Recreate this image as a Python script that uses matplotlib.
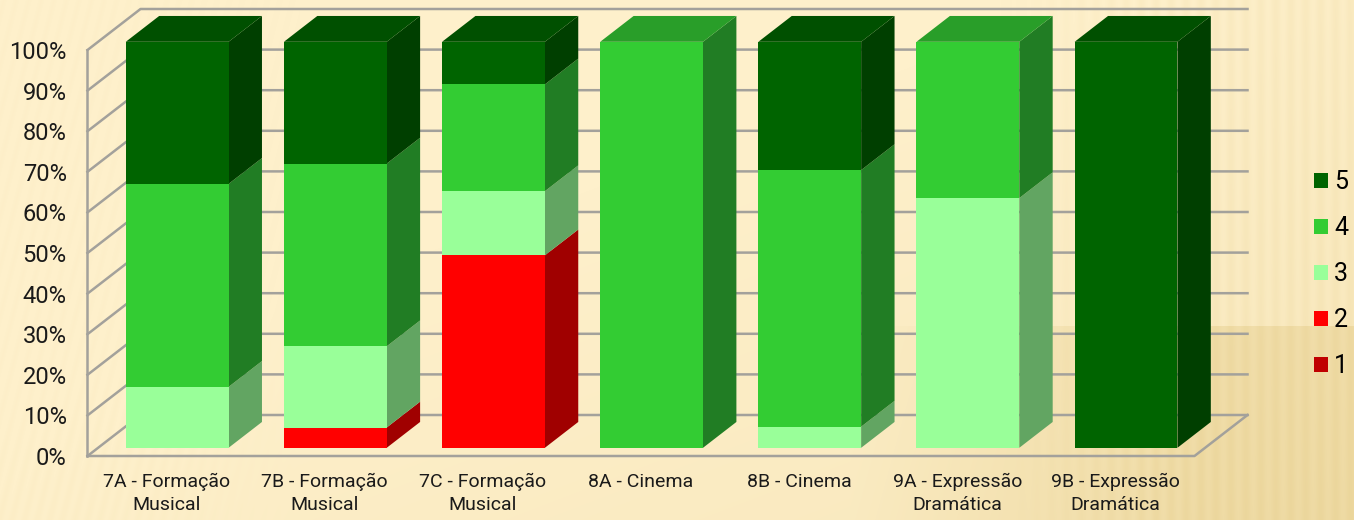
import matplotlib
matplotlib.use('Agg')
import matplotlib.pyplot as plt
from matplotlib.patches import Patch
import numpy as np

plt.rcParams['font.family'] = ['Roboto', 'DejaVu Sans']

categories = ['7A - Formação\nMusical', '7B - Formação\nMusical', '7C - Formação\nMusical',
              '8A - Cinema', '8B - Cinema', '9A - Expressão\nDramática', '9B - Expressão\nDramática']
series_names = ['1', '2', '3', '4', '5']
s1 = [0, 0, 0, 0, 0, 0, 0]
s2 = [0, 5, 47.4, 0, 0, 0, 0]
s3 = [15, 20, 15.8, 0, 5.2, 61.5, 0]
s4 = [50, 45, 26.3, 100, 63.2, 38.5, 0]
s5 = [35, 30, 10.5, 0, 31.6, 0, 100]
series = [s1, s2, s3, s4, s5]
yticks = [0, 10, 20, 30, 40, 50, 60, 70, 80, 90, 100]

front = ['#C00000', '#FF0000', '#99FF99', '#33CC33', '#006400']
side = ['#800000', '#A00000', '#62A562', '#217D24', '#003F00']
top = ['#900000', '#C00000', '#7ACC7A', '#299E29', '#005000']
grid_col = '#A3A19B'

W, H = 1354, 520
fig = plt.figure(figsize=(W / 100, H / 100), dpi=100)

# fondo
bg = fig.add_axes([0, 0, 1, 1], zorder=0)
bg.axis('off')
yy, xx = np.mgrid[0:H, 0:W]
light = np.array([254, 240, 203], float)
dark = np.array([234, 212, 152], float)
t = np.clip((xx / W) * 0.25 + (yy / H) * 0.25 - 0.2, 0, 1)
t = t + 0.55 * (yy > 325) * np.clip((xx - 850) / 350, 0, 1)
t = t + 0.12 * np.clip((xx - 1000) / 300, 0, 1) * (yy <= 325)
t = t + 0.08 * np.sin(xx * 0.42) * np.clip((xx - 1000) / 150, 0, 1)
t = t + 0.04 * np.sin((xx + yy * 0.25) * 0.5) * np.clip((300 - xx) / 200, 0, 1)
t = np.clip(t, 0, 1)[..., None]
bg.imshow((light * (1 - t) + dark * t).astype(np.uint8), aspect='auto')

ax = fig.add_axes([87.5 / W, (H - 456) / H, (1195 - 88) / W, 406 / H], zorder=1)
ax.patch.set_alpha(0)
ax.set_xlim(-0.5, 6.5)
ax.set_ylim(0, 100)
for s in ax.spines.values():
    s.set_visible(False)

# profundidad
dx = 53 / 158.1
dy = 41 / 4.06
z0, z1 = 0.2, 0.83
bw = 0.65


def proj(x, y, z):
    return x + z * dx, y + z * dy


# paredes
for v in yticks:
    a = proj(-0.5, v, 0)
    b = proj(-0.5, v, 1)
    c = proj(6.5, v, 1)
    ax.plot([a[0], b[0], c[0]], [a[1], b[1], c[1]], color=grid_col, lw=1.8, clip_on=False, zorder=1)
ax.plot([-0.5, -0.5], [0, 100], color=grid_col, lw=1.8, clip_on=False, zorder=1)
a = proj(6.5, 0, 1)
ax.plot([-0.5, 6.5, a[0]], [0, 0, a[1]], color=grid_col, lw=1.8, clip_on=False, zorder=1)

# barras
for i in range(len(categories)):
    base = 0
    vals = [s[i] for s in series]
    last = max(j for j, v in enumerate(vals) if v > 0)
    xl, xr = i - bw / 2, i + bw / 2
    for j, v in enumerate(vals):
        if v <= 0:
            continue
        y0, y1 = base, base + v
        p = [proj(xl, y0, z0), proj(xr, y0, z0), proj(xr, y1, z0), proj(xl, y1, z0)]
        ax.fill(*zip(*p), color=front[j], lw=0, clip_on=False, zorder=3)
        p = [proj(xr, y0, z0), proj(xr, y0, z1), proj(xr, y1, z1), proj(xr, y1, z0)]
        ax.fill(*zip(*p), color=side[j], lw=0, clip_on=False, zorder=2)
        if j == last:
            p = [proj(xl, y1, z0), proj(xr, y1, z0), proj(xr, y1, z1), proj(xl, y1, z1)]
            ax.fill(*zip(*p), color=top[j], lw=0, clip_on=False, zorder=2)
        base = y1

ax.set_xticks(range(len(categories)))
ax.set_xticklabels(categories, fontsize=14, color='#1a1a1a', linespacing=1.35)
ax.set_yticks(yticks)
ax.set_yticklabels([f'{v}%' for v in yticks], fontsize=17, color='#1a1a1a')
ax.tick_params(axis='both', length=0)
ax.tick_params(axis='x', pad=12)
ax.tick_params(axis='y', pad=15)

handles = [Patch(color=front[j], lw=0, label=series_names[j]) for j in range(4, -1, -1)]
fig.legend(handles=handles, loc='center left', bbox_to_anchor=(1314 / W, (H - 274) / H),
           frameon=False, fontsize=18, handlelength=0.56, handleheight=0.56,
           handletextpad=0.24, labelspacing=0.88, borderpad=0, borderaxespad=0)

fig.savefig('out.png', dpi=100)
